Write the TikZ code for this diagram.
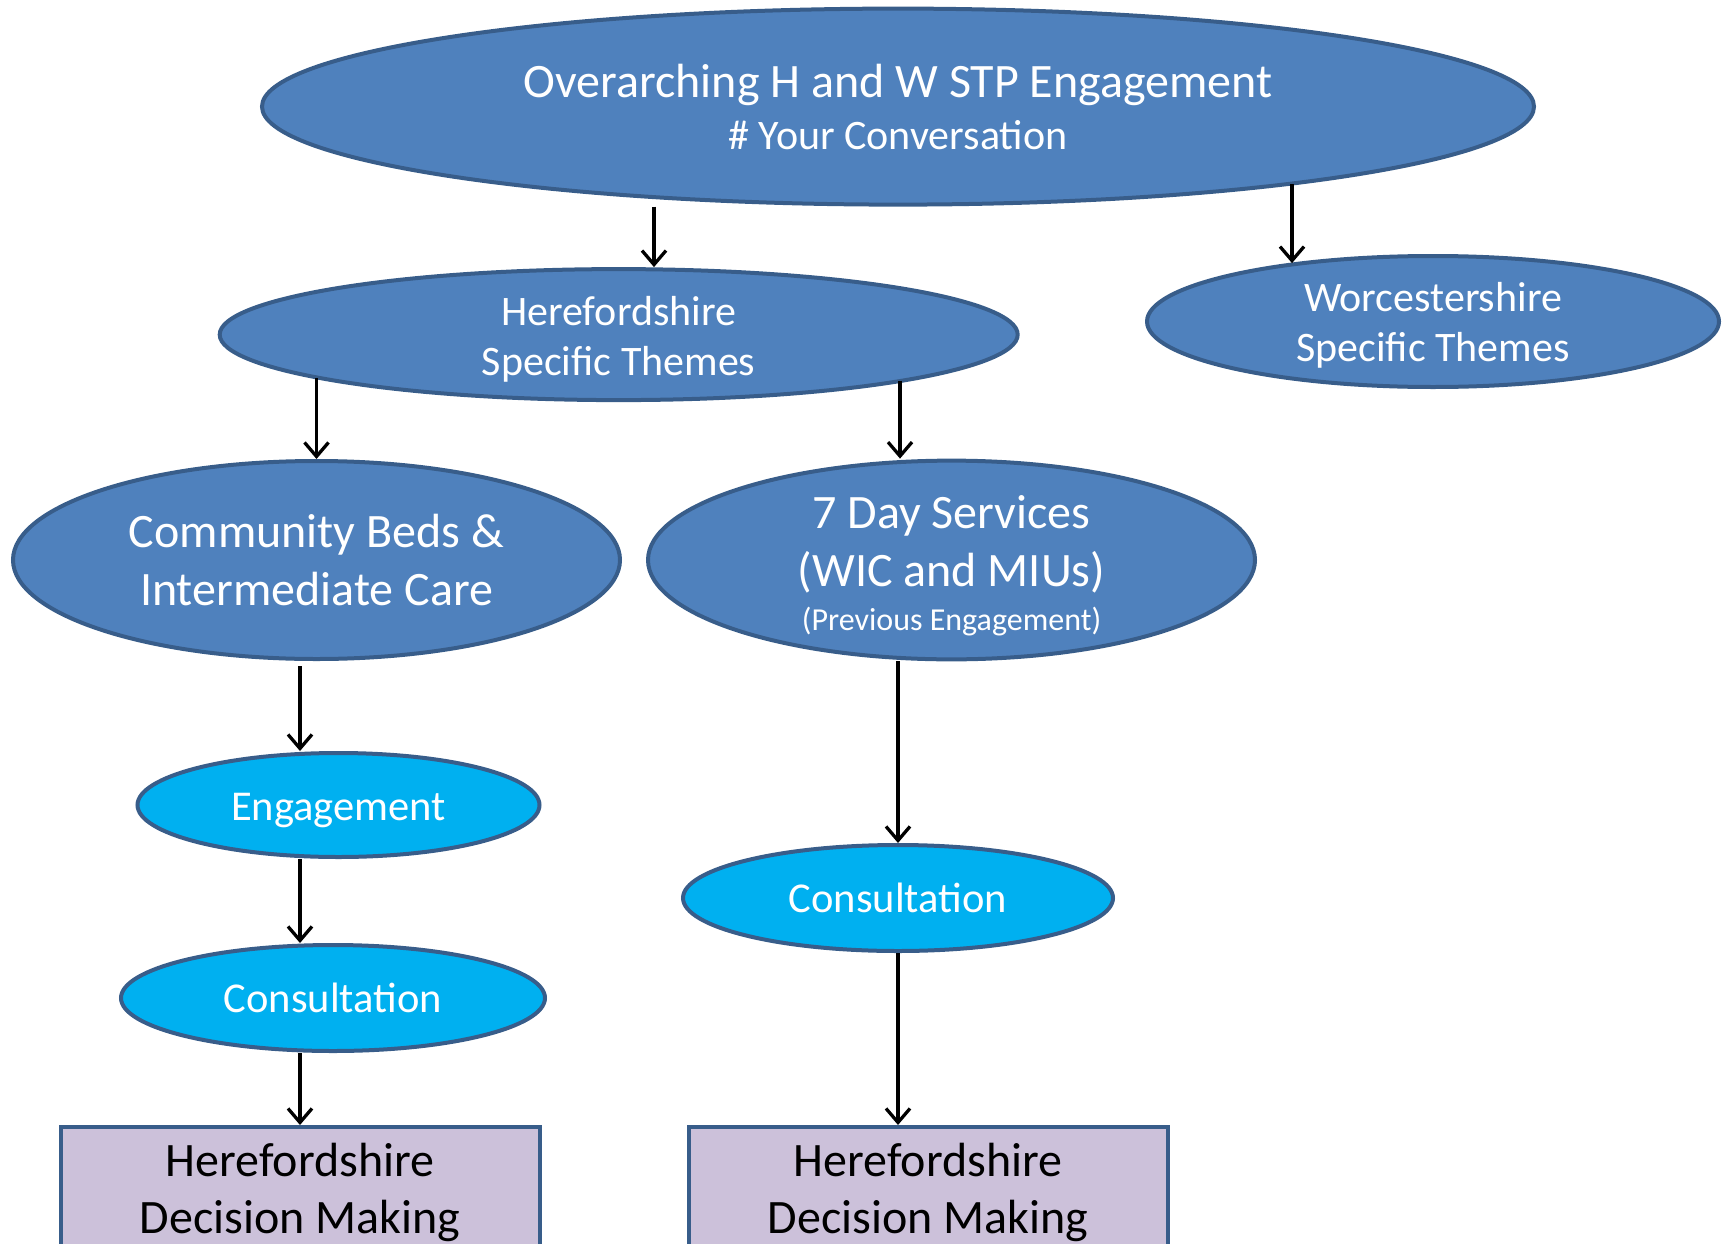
\documentclass[tikz,border=0pt]{standalone}
\usepackage{fontspec}
\setmainfont{Carlito}
\usetikzlibrary{shapes.geometric,arrows.meta}
\definecolor{darkfill}{HTML}{4F81BD}
\definecolor{bordcol}{HTML}{385D8A}
\definecolor{lightfill}{HTML}{00B0F0}
\definecolor{boxfill}{HTML}{CCC1DA}
\newcommand{\dn}[2]{\raisebox{-#1pt}[\height][\depth]{#2}}
\tikzset{
  dark/.style={ellipse, draw=bordcol, fill=darkfill, line width=4pt, inner sep=0pt, text=white, align=center},
  lite/.style={ellipse, draw=bordcol, fill=lightfill, line width=4pt, inner sep=0pt, text=white, align=center,
    font=\fontsize{42.5}{50}\selectfont},
  dmbox/.style={rectangle, draw=bordcol, fill=boxfill, line width=4pt, inner sep=0pt, text=black, align=center,
    minimum width=479pt, minimum height=130pt, anchor=north, font=\fontsize{48}{57}\selectfont},
  arr/.style={line width=3.3pt, -{Straight Barb[length=14pt,width=24pt,line width=3.3pt]}},
}
\begin{document}
\begin{tikzpicture}[x=1pt,y=-1pt]
\useasboundingbox (0,0) rectangle (1723,1244);
\clip (0,0) rectangle (1723,1244);
\node[dark, minimum width=1272pt, minimum height=196pt, font=\fontsize{48}{52}\selectfont] (top) at (898,106.6)
  {Overarching H and W STP Engagement\\{\fontsize{42}{52}\selectfont \# Your Conversation}};
\node[dark, minimum width=798pt, minimum height=131pt, font=\fontsize{42}{50}\selectfont] (hs) at (618.7,334.6)
  {\dn{4.4}{Herefordshire}\\\dn{4.4}{Specific Themes}};
\node[dark, minimum width=572pt, minimum height=131pt, font=\fontsize{42}{50}\selectfont] (ws) at (1433,321.5)
  {\dn{4}{Worcestershire}\\\dn{4}{Specific Themes}};
\node[dark, minimum width=607pt, minimum height=198pt, font=\fontsize{48}{58}\selectfont] (cb) at (316.5,560)
  {Community Beds \&\\Intermediate Care};
\node[dark, minimum width=607pt, minimum height=198pt, font=\fontsize{48}{58}\selectfont] (sd) at (951.5,560)
  {\dn{6}{7 Day Services}\\\dn{6}{(WIC and MIUs)}\\[-14pt]{\fontsize{32}{41}\selectfont \dn{6}{(Previous Engagement)}}};
\node[lite, minimum width=402pt, minimum height=104pt] (eng) at (338.5,805) {\dn{5.5}{Engagement}};
\node[lite, minimum width=424pt, minimum height=106pt] (con1) at (333,998) {Consultation};
\node[lite, minimum width=430pt, minimum height=106pt] (con2) at (898,898) {Consultation};
\node[dmbox] (dm1) at (300,1125) {Herefordshire\\Decision Making};
\node[dmbox] (dm2) at (928,1125) {Herefordshire\\Decision Making};
\coordinate (x1) at (654,0);
\coordinate (xc) at (1292,0);
\coordinate (xa) at (316.5,0);
\coordinate (xb) at (900,0);
\coordinate (lx) at (300,0);
\draw[arr] (top.south -| x1) -- (hs.north -| x1);
\draw[arr] (top.-11 -| xc) -- (ws.158 -| xc);
\draw[arr] (hs.188 -| xa) -- (cb.north -| xa);
\draw[arr] (hs.-9.4 -| xb) -- (sd.north -| xb);
\draw[arr] ([yshift=-5pt]cb.south -| lx) -- (eng.north -| lx);
\draw[arr] (eng.south -| lx) -- (con1.north -| lx);
\draw[arr] (con1.south -| lx) -- (dm1.north -| lx);
\draw[arr] (sd.south -| con2.north) -- (con2.north);
\draw[arr] (con2.south) -- (con2.south |- dm2.north);
\end{tikzpicture}
\end{document}
